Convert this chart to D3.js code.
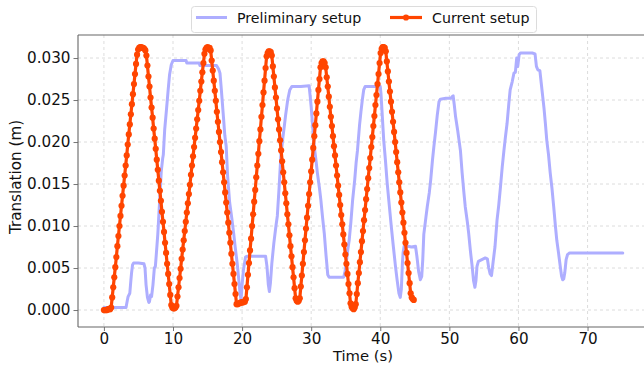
<!DOCTYPE html>
<html>
<head>
<meta charset="utf-8">
<script src="https://cdn.jsdelivr.net/npm/d3@7"></script>
<style>
html,body{margin:0;padding:0;background:#fff;}
svg{display:block;font-family:"DejaVu Sans",sans-serif;}
</style>
</head>
<body>
<svg id="chart" width="644" height="365"></svg>
<script>
// ---------------- DATA ----------------
const seriesNames = ["Preliminary setup", "Current setup"];
const xTicks = [0, 10, 20, 30, 40, 50, 60, 70];
const yTicks = [0.000, 0.005, 0.010, 0.015, 0.020, 0.025, 0.030];

// Preliminary setup: [time (s), translation (m)]
const preliminarySetup = [
[0,0.0003],[1,0.0003],[2,0.0003],[3.2,0.0003],[3.4,0.0012],[3.5,0.0016],[3.75,0.0020],[3.9,0.0035],[4.0,0.0044],[4.15,0.0054],[4.3,0.0056],[5.0,0.0056],[5.8,0.0055],[5.95,0.0050],[6.1,0.0030],[6.3,0.0015],[6.5,0.0009],[6.6,0.0010],[6.75,0.0018],[6.9,0.0016],[7.1,0.0030],[7.3,0.0050],[7.45,0.0052],[7.6,0.0068],[7.8,0.0090],[7.9,0.0105],[8.1,0.0135],[8.3,0.0165],[8.5,0.0180],[8.6,0.0185],[8.8,0.0215],[9.05,0.0238],[9.3,0.0262],[9.5,0.0280],[9.75,0.0292],[10.0,0.0297],[11.0,0.0297],[11.9,0.0297],[12.0,0.0294],[13.0,0.0294],[13.8,0.0294],[13.9,0.0291],[15.0,0.0291],[16.3,0.0291],[16.6,0.0287],[16.8,0.0282],[17.0,0.0262],[17.3,0.0230],[17.5,0.0208],[17.7,0.0195],[17.9,0.0160],[18.2,0.0128],[18.5,0.0110],[18.8,0.0090],[19.0,0.0075],[19.3,0.0055],[19.5,0.0038],[19.7,0.0020],[19.85,0.0012],[20.0,0.0030],[20.2,0.0048],[20.5,0.0063],[20.7,0.0064],[22.0,0.0064],[23.4,0.0064],[23.6,0.0052],[23.8,0.0030],[23.95,0.0022],[24.1,0.0032],[24.3,0.0055],[24.6,0.0080],[24.9,0.0100],[25.1,0.0112],[25.35,0.0145],[25.6,0.0182],[25.9,0.0205],[26.1,0.0218],[26.3,0.0232],[26.6,0.0250],[26.9,0.0262],[27.2,0.0266],[28.5,0.0266],[29.7,0.0267],[29.85,0.0255],[30.0,0.0242],[30.2,0.0220],[30.45,0.0194],[30.7,0.0178],[30.9,0.0163],[31.2,0.0145],[31.4,0.0131],[31.65,0.0110],[31.9,0.0091],[32.15,0.0065],[32.4,0.0042],[32.6,0.0039],[33.5,0.0039],[34.7,0.0039],[34.9,0.0046],[35.1,0.0058],[35.3,0.0072],[35.5,0.0083],[35.75,0.0105],[36.0,0.0131],[36.3,0.0155],[36.5,0.0175],[36.7,0.0190],[37.0,0.0220],[37.2,0.0236],[37.4,0.0250],[37.6,0.0262],[37.8,0.0266],[39.0,0.0266],[40.0,0.0266],[40.1,0.0258],[40.3,0.0230],[40.5,0.0202],[40.75,0.0178],[41.0,0.0151],[41.3,0.0125],[41.6,0.0099],[41.9,0.0075],[42.2,0.0052],[42.45,0.0035],[42.7,0.0020],[42.9,0.0015],[43.05,0.0025],[43.2,0.0055],[43.3,0.0068],[43.45,0.0076],[44.0,0.0076],[44.5,0.0075],[45.1,0.0076],[45.3,0.0064],[45.55,0.0046],[45.8,0.0036],[46.0,0.0040],[46.15,0.0060],[46.3,0.0090],[46.6,0.0110],[46.8,0.0123],[47.1,0.0140],[47.3,0.0155],[47.55,0.0178],[47.75,0.0194],[48.0,0.0212],[48.25,0.0232],[48.5,0.0248],[48.7,0.0251],[49.5,0.0252],[50.2,0.0252],[50.4,0.0254],[50.55,0.0255],[50.7,0.0245],[50.9,0.0230],[51.2,0.0214],[51.4,0.0202],[51.6,0.0190],[51.85,0.0163],[52.1,0.0140],[52.3,0.0123],[52.6,0.0105],[52.8,0.0091],[53.05,0.0070],[53.3,0.0052],[53.5,0.0035],[53.7,0.0027],[53.85,0.0035],[54.0,0.0052],[54.2,0.0058],[54.7,0.0060],[55.2,0.0062],[55.5,0.0061],[55.7,0.0050],[55.9,0.0043],[56.1,0.0041],[56.3,0.0055],[56.6,0.0075],[56.9,0.0107],[57.15,0.0125],[57.4,0.0147],[57.65,0.0170],[57.9,0.0190],[58.1,0.0205],[58.35,0.0222],[58.6,0.0245],[58.8,0.0262],[59.1,0.0272],[59.35,0.0282],[59.55,0.0283],[59.75,0.0300],[59.9,0.0290],[60.1,0.0304],[60.3,0.0306],[61.0,0.0306],[62.0,0.0306],[62.4,0.0305],[62.6,0.0290],[62.8,0.0286],[63.1,0.0285],[63.3,0.0270],[63.5,0.0255],[63.7,0.0240],[63.9,0.0222],[64.1,0.0202],[64.35,0.0185],[64.6,0.0163],[64.85,0.0145],[65.1,0.0123],[65.35,0.0100],[65.55,0.0083],[65.8,0.0068],[66.05,0.0052],[66.25,0.0040],[66.4,0.0036],[66.55,0.0037],[66.7,0.0044],[66.9,0.0060],[67.1,0.0066],[67.4,0.0068],[69,0.0068],[72,0.0068],[75.1,0.0068]
];

// Current setup: [time (s), translation (m)]
const currentSetup = [
[0,0.0000],[0.15,0.0000],[0.3,0.0000],[0.45,0.0000],[0.6,0.0001],[0.75,0.0001],[0.9,0.0001],[1.05,0.0003],
[1.2,0.0015],[1.35,0.0027],[1.5,0.0039],[1.65,0.0051],[1.8,0.0063],[1.95,0.0076],[2.1,0.0088],[2.25,0.0100],[2.4,0.0112],[2.55,0.0124],[2.7,0.0136],[2.85,0.0148],[3.0,0.0160],[3.15,0.0172],[3.3,0.0184],[3.45,0.0197],[3.6,0.0209],[3.75,0.0221],[3.9,0.0233],[4.05,0.0245],[4.2,0.0257],[4.35,0.0269],[4.5,0.0281],[4.65,0.0293],[4.8,0.0304],
[4.95,0.0310],[5.1,0.0312],[5.25,0.0313],[5.4,0.0313],[5.55,0.0312],[5.7,0.0312],[5.85,0.0311],[6.0,0.0309],[6.15,0.0303],
[6.3,0.0291],[6.45,0.0278],[6.6,0.0266],[6.75,0.0253],[6.9,0.0241],[7.05,0.0229],[7.2,0.0216],[7.35,0.0204],[7.5,0.0192],[7.65,0.0179],[7.8,0.0167],[7.95,0.0154],[8.1,0.0142],[8.25,0.0130],[8.4,0.0117],[8.55,0.0105],[8.7,0.0093],[8.85,0.0080],[9.0,0.0068],[9.15,0.0055],[9.3,0.0043],[9.45,0.0031],[9.6,0.0018],[9.75,0.0006],
[9.9,0.0003],[10.05,0.0002],[10.2,0.0002],[10.35,0.0003],[10.5,0.0005],
[10.65,0.0016],[10.8,0.0027],[10.95,0.0038],[11.1,0.0049],[11.25,0.0061],[11.4,0.0072],[11.55,0.0083],[11.7,0.0094],[11.85,0.0105],[12.0,0.0116],[12.15,0.0127],[12.3,0.0138],[12.45,0.0149],[12.6,0.0161],[12.75,0.0172],[12.9,0.0183],[13.05,0.0194],[13.2,0.0205],[13.35,0.0216],[13.5,0.0227],[13.65,0.0238],[13.8,0.0249],[13.95,0.0261],[14.1,0.0272],[14.25,0.0283],[14.4,0.0294],[14.55,0.0305],
[14.7,0.0310],[14.85,0.0312],[15.0,0.0313],[15.15,0.0312],[15.3,0.0312],[15.45,0.0309],
[15.6,0.0297],[15.75,0.0285],[15.9,0.0273],[16.05,0.0261],[16.2,0.0249],[16.35,0.0236],[16.5,0.0224],[16.65,0.0212],[16.8,0.0200],[16.95,0.0188],[17.1,0.0176],[17.25,0.0164],[17.4,0.0152],[17.55,0.0140],[17.7,0.0128],[17.85,0.0116],[18.0,0.0104],[18.15,0.0092],[18.3,0.0080],[18.45,0.0067],[18.6,0.0055],[18.75,0.0043],[18.9,0.0031],[19.05,0.0019],[19.2,0.0007],
[19.35,0.0007],[19.5,0.0008],[19.65,0.0008],[19.8,0.0009],[19.95,0.0009],[20.1,0.0009],[20.25,0.0010],[20.4,0.0010],[20.55,0.0013],
[20.7,0.0027],[20.85,0.0042],[21.0,0.0056],[21.15,0.0071],[21.3,0.0085],[21.45,0.0100],[21.6,0.0114],[21.75,0.0129],[21.9,0.0143],[22.05,0.0158],[22.2,0.0172],[22.35,0.0186],[22.5,0.0201],[22.65,0.0215],[22.8,0.0230],[22.95,0.0244],[23.1,0.0259],[23.25,0.0273],[23.4,0.0288],[23.55,0.0302],
[23.7,0.0306],[23.85,0.0308],[24.0,0.0308],[24.15,0.0307],[24.3,0.0303],
[24.45,0.0290],[24.6,0.0278],[24.75,0.0265],[24.9,0.0253],[25.05,0.0240],[25.2,0.0227],[25.35,0.0215],[25.5,0.0202],[25.65,0.0190],[25.8,0.0177],[25.95,0.0164],[26.1,0.0152],[26.25,0.0139],[26.4,0.0127],[26.55,0.0114],[26.7,0.0102],[26.85,0.0089],[27.0,0.0076],[27.15,0.0064],[27.3,0.0051],[27.45,0.0039],[27.6,0.0026],[27.75,0.0014],
[27.9,0.0011],[28.05,0.0010],[28.2,0.0011],[28.35,0.0014],
[28.5,0.0028],[28.65,0.0041],[28.8,0.0055],[28.95,0.0069],[29.1,0.0083],[29.25,0.0097],[29.4,0.0110],[29.55,0.0124],[29.7,0.0138],[29.85,0.0152],[30.0,0.0165],[30.15,0.0179],[30.3,0.0193],[30.45,0.0207],[30.6,0.0220],[30.75,0.0234],[30.9,0.0248],[31.05,0.0262],[31.2,0.0275],[31.35,0.0289],
[31.5,0.0294],[31.65,0.0296],[31.8,0.0296],[31.95,0.0294],[32.1,0.0289],
[32.25,0.0277],[32.4,0.0266],[32.55,0.0254],[32.7,0.0242],[32.85,0.0230],[33.0,0.0219],[33.15,0.0207],[33.3,0.0195],[33.45,0.0184],[33.6,0.0172],[33.75,0.0160],[33.9,0.0148],[34.05,0.0137],[34.2,0.0125],[34.35,0.0113],[34.5,0.0102],[34.65,0.0090],[34.8,0.0078],[34.95,0.0066],[35.1,0.0055],[35.25,0.0043],[35.4,0.0031],[35.55,0.0020],[35.7,0.0008],
[35.85,0.0004],[36.0,0.0002],[36.15,0.0001],[36.3,0.0003],[36.45,0.0007],
[36.6,0.0019],[36.75,0.0032],[36.9,0.0044],[37.05,0.0057],[37.2,0.0069],[37.35,0.0082],[37.5,0.0094],[37.65,0.0107],[37.8,0.0119],[37.95,0.0132],[38.1,0.0144],[38.25,0.0157],[38.4,0.0169],[38.55,0.0181],[38.7,0.0194],[38.85,0.0206],[39.0,0.0219],[39.15,0.0231],[39.3,0.0244],[39.45,0.0256],[39.6,0.0269],[39.75,0.0281],[39.9,0.0294],[40.05,0.0306],
[40.2,0.0311],[40.35,0.0313],[40.5,0.0313],[40.65,0.0312],[40.8,0.0308],
[40.95,0.0296],[41.1,0.0284],[41.25,0.0272],[41.4,0.0260],[41.55,0.0248],[41.7,0.0236],[41.85,0.0224],[42.0,0.0212],[42.15,0.0200],[42.3,0.0188],[42.45,0.0176],[42.6,0.0164],[42.75,0.0152],[42.9,0.0140],[43.05,0.0128],[43.2,0.0116],[43.35,0.0104],[43.5,0.0092],[43.65,0.0080],[43.8,0.0068],[43.95,0.0056],[44.1,0.0044],[44.25,0.0032],[44.4,0.0020],
[44.55,0.0015],[44.7,0.0013],[44.85,0.0012]
];

const colors = ["#aeaeff", "#ff4500"];

// ---------------- LAYOUT ----------------
const svg = d3.select("#chart");
const W = 644, H = 365;
const plot = {left: 78, right: 648, top: 35, bottom: 327};

const x = d3.scaleLinear().domain([-3.75, 78.75]).range([plot.left, plot.right]);
const y = d3.scaleLinear().domain([-0.00202, 0.03274]).range([plot.bottom, plot.top]);

svg.append("rect").attr("width", W).attr("height", H).attr("fill", "#fff");

// grid
const grid = svg.append("g");
grid.selectAll("line.gx").data(xTicks).join("line")
  .attr("x1", d => x(d)).attr("x2", d => x(d))
  .attr("y1", plot.top).attr("y2", plot.bottom)
  .attr("stroke", "#d4d4d4").attr("stroke-width", 0.8).attr("stroke-dasharray", "3,3");
grid.selectAll("line.gy").data(yTicks).join("line")
  .attr("x1", plot.left).attr("x2", plot.right)
  .attr("y1", d => y(d)).attr("y2", d => y(d))
  .attr("stroke", "#d4d4d4").attr("stroke-width", 0.8).attr("stroke-dasharray", "3,3");

// clip
svg.append("clipPath").attr("id", "clip").append("rect")
  .attr("x", plot.left).attr("y", plot.top)
  .attr("width", plot.right - plot.left).attr("height", plot.bottom - plot.top);

const line = d3.line().x(d => x(d[0])).y(d => y(d[1]));
const g = svg.append("g").attr("clip-path", "url(#clip)");

g.append("path").datum(preliminarySetup)
  .attr("d", line).attr("fill", "none")
  .attr("stroke", colors[0]).attr("stroke-width", 3)
  .attr("stroke-linejoin", "round").attr("stroke-linecap", "round");

g.append("path").datum(currentSetup)
  .attr("d", line).attr("fill", "none")
  .attr("stroke", colors[1]).attr("stroke-width", 3.2)
  .attr("stroke-linejoin", "round");

g.selectAll("circle.pt").data(currentSetup).join("circle")
  .attr("class", "pt")
  .attr("cx", d => x(d[0])).attr("cy", d => y(d[1]))
  .attr("r", 3.1).attr("fill", colors[1]);

// axes
const fs = "15.2px";
const xAxis = d3.axisBottom(x).tickValues(xTicks).tickFormat(d3.format("d")).tickSize(4).tickPadding(2);
const yAxis = d3.axisLeft(y).tickValues(yTicks).tickFormat(d3.format(".3f")).tickSize(4.5).tickPadding(3);

const gx = svg.append("g").attr("transform", `translate(0,${plot.bottom})`).call(xAxis);
const gy = svg.append("g").attr("transform", `translate(${plot.left},0)`).call(yAxis);
[gx, gy].forEach(a => {
  a.select(".domain").remove();
  a.selectAll(".tick line").attr("stroke", "#666").attr("stroke-width", 0.9);
  a.selectAll(".tick text").attr("fill", "#111").style("font-size", fs)
   .style("font-family", '"DejaVu Sans", sans-serif');
});

// spines
const spine = svg.append("g").attr("stroke", "#666").attr("stroke-width", 1.1).attr("fill", "none");
spine.append("line").attr("x1", plot.left).attr("x2", plot.left).attr("y1", plot.top).attr("y2", plot.bottom);
spine.append("line").attr("x1", plot.left).attr("x2", plot.right).attr("y1", plot.bottom).attr("y2", plot.bottom);
spine.append("line").attr("x1", plot.left).attr("x2", plot.right).attr("y1", plot.top).attr("y2", plot.top);

// axis labels
svg.append("text").attr("x", (plot.left + plot.right) / 2).attr("y", 360.5)
  .attr("text-anchor", "middle").style("font-size", "14.8px").attr("fill", "#111").text("Time (s)");
svg.append("text").attr("transform", `translate(21,${(plot.top + plot.bottom) / 2 - 4}) rotate(-90)`)
  .attr("text-anchor", "middle").style("font-size", fs).attr("fill", "#111").text("Translation (m)");

// legend
const lg = svg.append("g");
lg.append("rect").attr("x", 191.5).attr("y", 6.5).attr("width", 345).attr("height", 26)
  .attr("rx", 3).attr("fill", "#fff").attr("fill-opacity", 0.85).attr("stroke", "#dcdcdc").attr("stroke-width", 1);
const lfs = "14.2px";
lg.append("line").attr("x1", 196).attr("x2", 227).attr("y1", 17.5).attr("y2", 17.5)
  .attr("stroke", colors[0]).attr("stroke-width", 3);
lg.append("text").attr("x", 237).attr("y", 22.5).style("font-size", lfs).attr("fill", "#111").text(seriesNames[0]);
lg.append("line").attr("x1", 390).attr("x2", 422).attr("y1", 17.5).attr("y2", 17.5)
  .attr("stroke", colors[1]).attr("stroke-width", 3.2);
lg.append("circle").attr("cx", 406).attr("cy", 17.5).attr("r", 3.1).attr("fill", colors[1]);
lg.append("text").attr("x", 432).attr("y", 22.5).style("font-size", lfs).attr("fill", "#111").text(seriesNames[1]);
</script>
</body>
</html>
